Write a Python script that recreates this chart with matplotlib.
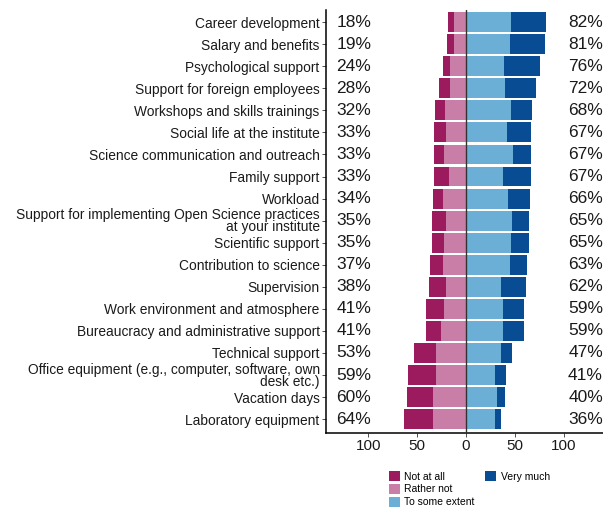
import matplotlib.pyplot as plt
from matplotlib.patches import Patch

plt.rcParams["font.family"] = ["Liberation Sans", "DejaVu Sans"]

categories = [
    "Career development",
    "Salary and benefits",
    "Psychological support",
    "Support for foreign employees",
    "Workshops and skills trainings",
    "Social life at the institute",
    "Science communication and outreach",
    "Family support",
    "Workload",
    "Support for implementing Open Science practices\nat your institute",
    "Scientific support",
    "Contribution to science",
    "Supervision",
    "Work environment and atmosphere",
    "Bureaucracy and administrative support",
    "Technical support",
    "Office equipment (e.g., computer, software, own\ndesk etc.)",
    "Vacation days",
    "Laboratory equipment",
]

not_at_all = [6, 7, 8, 12, 10, 12, 10, 16, 10, 14, 12, 13, 17, 18, 15, 22, 28, 26, 30]
rather_not = [12, 12, 16, 16, 22, 21, 23, 17, 24, 21, 23, 24, 21, 23, 26, 31, 31, 34, 34]
some_extent = [46, 45, 39, 40, 46, 42, 48, 38, 43, 47, 46, 45, 36, 38, 38, 36, 30, 32, 30]
very_much = [36, 36, 37, 32, 22, 25, 19, 29, 23, 18, 19, 18, 26, 21, 21, 11, 11, 8, 6]

low_pct = [18, 19, 24, 28, 32, 33, 33, 33, 34, 35, 35, 37, 38, 41, 41, 53, 59, 60, 64]
high_pct = [82, 81, 76, 72, 68, 67, 67, 67, 66, 65, 65, 63, 62, 59, 59, 47, 41, 40, 36]

levels = ["Not at all", "Rather not", "To some extent", "Very much"]
colors = ["#9c1b5f", "#c87ea7", "#6baed6", "#084d94"]

fig = plt.figure(figsize=(6.03, 5.08), dpi=100)
ax = fig.add_axes([0.5406, 0.1476, 0.4594, 0.8327])

y = list(range(len(categories)))
h = 0.9

# negative side: rather not next to zero, not at all outside
rn_left = [-v for v in rather_not]
na_left = [-(a + b) for a, b in zip(rather_not, not_at_all)]
ax.barh(y, rather_not, left=rn_left, height=h, color=colors[1], linewidth=0)
ax.barh(y, not_at_all, left=na_left, height=h, color=colors[0], linewidth=0)
ax.barh(y, some_extent, left=0, height=h, color=colors[2], linewidth=0)
ax.barh(y, very_much, left=some_extent, height=h, color=colors[3], linewidth=0)

ax.axvline(0, color="#333333", linewidth=1, zorder=3)

for i in y:
    ax.text(-133, i, f"{low_pct[i]}%", ha="left", va="center", fontsize=12.5,
            color="#1a1a1a", clip_on=False)
    ax.text(140.5, i, f"{high_pct[i]}%", ha="right", va="center", fontsize=12.5,
            color="#1a1a1a", clip_on=False)

ax.set_xlim(-143.6, 140.5)
ax.set_ylim(18.63, -0.55)
ax.set_yticks(y)
ax.set_yticklabels(categories, fontsize=9.9, color="#1a1a1a", linespacing=0.82)
ax.set_xticks([-100, -50, 0, 50, 100])
ax.set_xticklabels(["100", "50", "0", "50", "100"], fontsize=11, color="#1a1a1a")
ax.tick_params(axis="y", length=3, width=0.6, color="#333333", pad=1.5)
ax.tick_params(axis="x", length=3, width=0.6, color="#333333", pad=1.5)

for side in ["top", "right"]:
    ax.spines[side].set_visible(False)
for side in ["left", "bottom"]:
    ax.spines[side].set_linewidth(1.1)
    ax.spines[side].set_color("black")

handles = [Patch(facecolor=c, edgecolor="none", label=l) for c, l in zip(colors, levels)]
handles += [Patch(visible=False, label=""), Patch(visible=False, label="")]
fig.legend(handles=handles, ncol=2, loc="center", bbox_to_anchor=(0.778, 0.037),
           frameon=False, fontsize=7.5, handlelength=1.1, handleheight=1.1,
           handletextpad=0.4, labelspacing=0.2, columnspacing=1.0, borderpad=0)

fig.savefig("out.png", dpi=100)
